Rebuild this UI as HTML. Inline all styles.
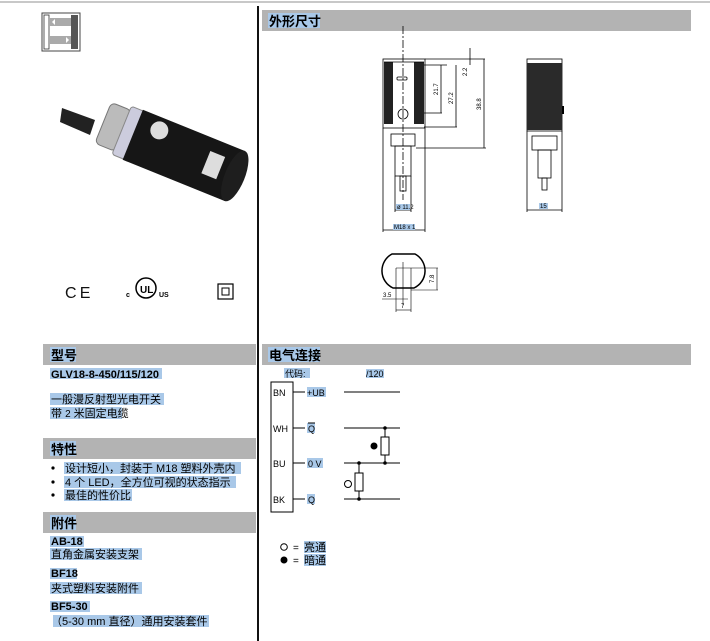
<!DOCTYPE html>
<html><head><meta charset="utf-8"><style>
body{margin:0;width:710px;height:641px;background:#fff;overflow:hidden;font-family:"Liberation Sans","Noto Sans CJK SC",sans-serif;}
svg{position:absolute;left:0;top:0}
.hl{fill:#a9c8e8}
text{font-family:"Liberation Sans","Noto Sans CJK SC",sans-serif}
</style></head><body>
<svg width="710" height="641" viewBox="0 0 710 641">
<rect x="0" y="1" width="710" height="2" fill="#c8c8c8"/>
<rect x="257" y="6" width="2" height="635" fill="#111"/>
<rect x="43" y="344" width="213" height="21" fill="#b3b3b3"/>
<rect x="43" y="438" width="213" height="21" fill="#b3b3b3"/>
<rect x="43" y="512" width="213" height="21" fill="#b3b3b3"/>
<rect x="262" y="10" width="429" height="21" fill="#b3b3b3"/>
<rect x="262" y="344" width="429" height="21" fill="#b3b3b3"/>
<rect class="hl" x="50" y="347" width="26" height="15"/>
<text x="51" y="360" font-size="13" font-weight="bold">型号</text>
<rect class="hl" x="50" y="441" width="26" height="15"/>
<text x="51" y="454" font-size="13" font-weight="bold">特性</text>
<rect class="hl" x="50" y="515" width="26" height="15"/>
<text x="51" y="528" font-size="13" font-weight="bold">附件</text>
<rect class="hl" x="268" y="13" width="52" height="15"/>
<text x="269" y="26" font-size="13" font-weight="bold">外形尺寸</text>
<rect class="hl" x="268" y="347" width="52" height="15"/>
<text x="269" y="360" font-size="13" font-weight="bold">电气连接</text>

<rect class="hl" x="50" y="368" width="112" height="11"/>
<text x="51" y="378" font-size="11" font-weight="bold">GLV18-8-450/115/120</text>
<rect class="hl" x="50" y="393" width="114" height="12"/>
<text x="51" y="403" font-size="11">一般漫反射型光电开关</text>
<rect class="hl" x="50" y="407" width="72" height="12"/>
<text x="51" y="417" font-size="11">带 <tspan font-size="10">2</tspan> 米固定电缆</text>
<g font-size="11">
<circle cx="53" cy="468" r="1.6" fill="#000"/><rect class="hl" x="64" y="462" width="177" height="12"/>
<text x="65" y="472">设计短小，封装于 M18 塑料外壳内</text>
<circle cx="53" cy="482" r="1.6" fill="#000"/><rect class="hl" x="64" y="476" width="172" height="12"/>
<text x="65" y="486">4 个 LED，全方位可视的状态指示</text>
<circle cx="53" cy="495" r="1.6" fill="#000"/><rect class="hl" x="64" y="489" width="68" height="12"/>
<text x="65" y="499">最佳的性价比</text>
</g>
<g font-size="11">
<rect class="hl" x="50" y="536" width="34" height="11"/><text x="51" y="545" font-weight="bold">AB-18</text>
<rect class="hl" x="50" y="548" width="92" height="12"/><text x="51" y="558">直角金属安装支架</text>
<rect class="hl" x="50" y="568" width="27" height="11"/><text x="51" y="577" font-weight="bold">BF18</text>
<rect class="hl" x="50" y="582" width="92" height="12"/><text x="51" y="592">夹式塑料安装附件</text>
<rect class="hl" x="50" y="601" width="40" height="11"/><text x="51" y="610" font-weight="bold">BF5-30</text>
<rect class="hl" x="53" y="615" width="156" height="12"/><text x="51" y="625">（5-30 mm 直径）通用安装套件</text>
</g>

<rect x="42" y="13" width="38" height="38" fill="#fff" stroke="#444" stroke-width="1"/>
<rect x="44" y="15" width="5" height="34" fill="#fff" stroke="#333" stroke-width="0.8"/>
<rect x="71" y="15" width="7" height="34" fill="#555"/>
<rect x="49" y="18" width="22" height="8" fill="#aaa"/>
<rect x="49" y="36" width="22" height="8" fill="#aaa"/>
<polygon points="52,22 55,19 55,25" fill="#fff"/>
<polygon points="69,40 66,37 66,43" fill="#fff"/>

<path d="M62,108 L95,120 L90,135 L60,122Z" fill="#222"/>
<g transform="translate(168,149) rotate(22)">
<rect x="-70" y="-22" width="22" height="44" rx="5" fill="#bbb" stroke="#777"/>
<rect x="-50" y="-26" width="14" height="52" rx="3" fill="#ccd" stroke="#888"/>
<rect x="-38" y="-27" width="110" height="54" fill="#161616"/>
<ellipse cx="72" cy="0" rx="10" ry="27" fill="#1e1e1e"/>
<circle cx="-15" cy="-14" r="9" fill="#ddd"/>
<rect x="40" y="-14" width="16" height="24" fill="#ddd"/>
</g>
<text x="65" y="298" font-size="16" fill="#111">C&#8201;E</text>
<text x="126" y="297" font-size="7" font-weight="bold">c</text>
<circle cx="146" cy="288" r="10" fill="none" stroke="#000" stroke-width="1.5"/>
<text x="140" y="293" font-size="10" font-weight="bold">UL</text>
<text x="159" y="297" font-size="7" font-weight="bold">US</text>
<rect x="218" y="284" width="15" height="15" fill="none" stroke="#000" stroke-width="1.2"/>
<rect x="222" y="288" width="7" height="7" fill="none" stroke="#000" stroke-width="1"/>

<g stroke="#000" stroke-width="0.8" fill="none">
<rect x="383" y="59" width="42" height="69" fill="#fff"/>
</g>
<rect x="384" y="62" width="9" height="62" fill="#222"/>
<rect x="414" y="62" width="10" height="62" fill="#222"/>
<g stroke="#000" stroke-width="0.8" fill="none">
<line x1="384" y1="62" x2="424" y2="62"/>
<rect x="397" y="77" width="10" height="3" rx="1"/>
<circle cx="403" cy="114" r="5"/>
<rect x="391" y="134" width="24" height="12"/>
<rect x="395" y="146" width="16" height="30"/>
<rect x="400" y="176" width="6" height="15"/>
<line x1="403" y1="26" x2="403" y2="200" stroke-dasharray="8 2 2 2"/>
<line x1="383" y1="128" x2="383" y2="232"/><line x1="425" y1="128" x2="425" y2="232"/>
<line x1="383" y1="230" x2="425" y2="230"/>
<line x1="395" y1="176" x2="395" y2="212"/><line x1="411" y1="176" x2="411" y2="212"/>
<line x1="395" y1="210" x2="411" y2="210"/>
<line x1="425" y1="59" x2="485" y2="59"/>
<line x1="424" y1="65" x2="447" y2="65"/>
<line x1="424" y1="113" x2="442" y2="113"/><line x1="441" y1="65" x2="441" y2="113"/>
<line x1="424" y1="127" x2="457" y2="127"/><line x1="456" y1="65" x2="456" y2="127"/>
<line x1="470" y1="48" x2="470" y2="65"/>
<line x1="416" y1="148" x2="486" y2="148"/><line x1="484" y1="59" x2="484" y2="148"/>
</g>
<g font-size="6" fill="#000">
<rect class="hl" x="396" y="204" width="14" height="6"/><text x="397" y="209">ø 11.2</text>
<rect class="hl" x="393" y="224" width="22" height="6"/><text x="394" y="229">M18 x 1</text>
<text transform="translate(438,95) rotate(-90)">21.7</text>
<text transform="translate(453,104) rotate(-90)">27.2</text>
<text transform="translate(467,76) rotate(-90)">2.2</text>
<text transform="translate(481,110) rotate(-90)">38.8</text>
</g>
<g stroke="#000" stroke-width="0.8" fill="none">
<rect x="527" y="59" width="35" height="72" fill="#fff"/>
<rect x="532" y="136" width="25" height="14"/>
<rect x="538" y="150" width="13" height="28"/>
<rect x="542" y="178" width="5" height="12"/>
<line x1="527" y1="131" x2="527" y2="212"/><line x1="562" y1="131" x2="562" y2="212"/>
<line x1="527" y1="210" x2="562" y2="210"/>
</g>
<rect x="527" y="63" width="35" height="67" fill="#2a2a2a"/>
<rect x="562" y="106" width="2" height="8" fill="#000"/>
<rect class="hl" x="539" y="203" width="9" height="6"/><text x="540" y="208" font-size="6">15</text>
<g stroke="#000" stroke-width="1" fill="none">
<path d="M392,254 L415,254 A19,19 0 0 1 414,288 L393,288 A19,19 0 0 1 392,254 Z" stroke-width="1.5"/>
<line x1="396" y1="268" x2="438" y2="268" stroke-width="0.6"/>
<line x1="396" y1="268" x2="396" y2="312" stroke-width="0.6"/>
<line x1="411" y1="268" x2="411" y2="312" stroke-width="0.6"/>
<line x1="403" y1="262" x2="403" y2="305" stroke-width="0.6"/>
<line x1="437" y1="268" x2="437" y2="290" stroke-width="0.6"/>
<line x1="411" y1="290" x2="438" y2="290" stroke-width="0.6"/>
<line x1="382" y1="299" x2="408" y2="299" stroke-width="0.6"/>
<line x1="396" y1="310" x2="411" y2="310" stroke-width="0.6"/>
</g>
<g font-size="6"><text x="383" y="297">3.5</text><text x="401" y="308">7</text>
<text transform="translate(434,283) rotate(-90)">7.8</text></g>

<rect class="hl" x="284" y="368" width="26" height="10"/>
<text x="285" y="377" font-size="9">代码:</text>
<rect class="hl" x="366" y="369" width="18" height="9"/>
<text x="366" y="377" font-size="9">/120</text>
<rect x="271" y="382" width="22" height="130" fill="none" stroke="#000" stroke-width="1"/>
<g font-size="9">
<text x="273" y="396">BN</text><text x="273" y="432">WH</text><text x="273" y="467">BU</text><text x="273" y="503">BK</text>
<rect class="hl" x="307" y="387" width="19" height="10"/><text x="307" y="396">+UB</text>
<rect class="hl" x="307" y="423" width="8" height="10"/><text x="308" y="432">Q</text>
<rect class="hl" x="307" y="458" width="16" height="10"/><text x="308" y="467">0 V</text>
<rect class="hl" x="307" y="494" width="8" height="10"/><text x="308" y="503">Q</text>
</g>
<g stroke="#000" stroke-width="1" fill="none">
<line x1="308" y1="423" x2="315" y2="423"/>
<line x1="293" y1="392" x2="305" y2="392"/><line x1="293" y1="428" x2="305" y2="428"/>
<line x1="293" y1="463" x2="305" y2="463"/><line x1="293" y1="499" x2="305" y2="499"/>
<line x1="344" y1="392" x2="400" y2="392"/><line x1="344" y1="428" x2="400" y2="428"/>
<line x1="344" y1="463" x2="400" y2="463"/><line x1="344" y1="499" x2="400" y2="499"/>
<line x1="385" y1="428" x2="385" y2="463"/><rect x="381" y="437" width="8" height="18" fill="#fff"/>
<line x1="359" y1="463" x2="359" y2="499"/><rect x="355" y="473" width="8" height="18" fill="#fff"/>
<circle cx="348" cy="484" r="3.5"/>
</g>
<circle cx="374" cy="446" r="3.5" fill="#000"/>
<circle cx="385" cy="428" r="1.8"/><circle cx="385" cy="463" r="1.8"/>
<circle cx="359" cy="463" r="1.8"/><circle cx="359" cy="499" r="1.8"/>
<circle cx="284" cy="547" r="3.3" fill="none" stroke="#000"/>
<circle cx="284" cy="560" r="3.5" fill="#000"/>
<text x="293" y="551" font-size="10">=</text><text x="293" y="564" font-size="10">=</text>
<rect class="hl" x="304" y="541" width="22" height="12"/><text x="304" y="551" font-size="11">亮通</text>
<rect class="hl" x="304" y="554" width="22" height="12"/><text x="304" y="564" font-size="11">暗通</text>
</svg>
</body></html>
